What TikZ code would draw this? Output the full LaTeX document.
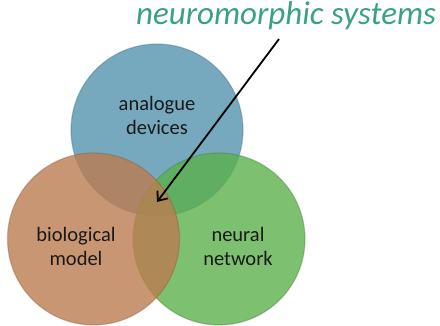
\documentclass[tikz,border=0pt]{standalone}
\usepackage{fontspec}
\setmainfont{Carlito}
\usepackage{tikz}
\usetikzlibrary{positioning, arrows, arrows.meta}
\usepackage{xcolor}

\definecolor{devblue}{RGB}{84,148,174}
\definecolor{biobrown}{RGB}{188,124,80}
\definecolor{netgreen}{RGB}{92,176,76}
\definecolor{titlegreen}{RGB}{58,162,126}

\tikzset{
	set/.style={circle, minimum size=172pt, inner sep=0pt, fill opacity=0.8, line width=1.2pt, draw opacity=0.35},
	setlabel/.style={align=center, font=\fontsize{20.5}{24}\selectfont, text=black!90}
}

\begin{document}
\begin{tikzpicture}[x=1pt, y=-1pt]
		\useasboundingbox (0,0) rectangle (440,326);
		\node[set, fill=devblue, draw=devblue!70!black] (dev) at (157,130) {};
		\node[set, fill=netgreen, draw=netgreen!70!black] (net) at (219,239) {};
		\node[set, fill=biobrown, draw=biobrown!70!black] (bio) at (93.5,239) {};
		
		\node[setlabel] (devtxt) at (157,115) {analogue\\devices};
		\node[setlabel] (biotxt) at (76,246) {biological\\model};
		\node[setlabel] (nettxt) at (238,246) {neural\\network};
		
		\node[anchor=base west, inner sep=0pt, text=titlegreen, font=\fontsize{33}{38}\selectfont\itshape] (title) at (136,25) {neuromorphic systems};
		\coordinate (from) at (279,39);
		\coordinate (core) at (157,202);
		
		\draw[-{Straight Barb[length=8pt,width=13pt]}, line width=1.8pt] (from) -- (core);
	\end{tikzpicture}
\end{document}
